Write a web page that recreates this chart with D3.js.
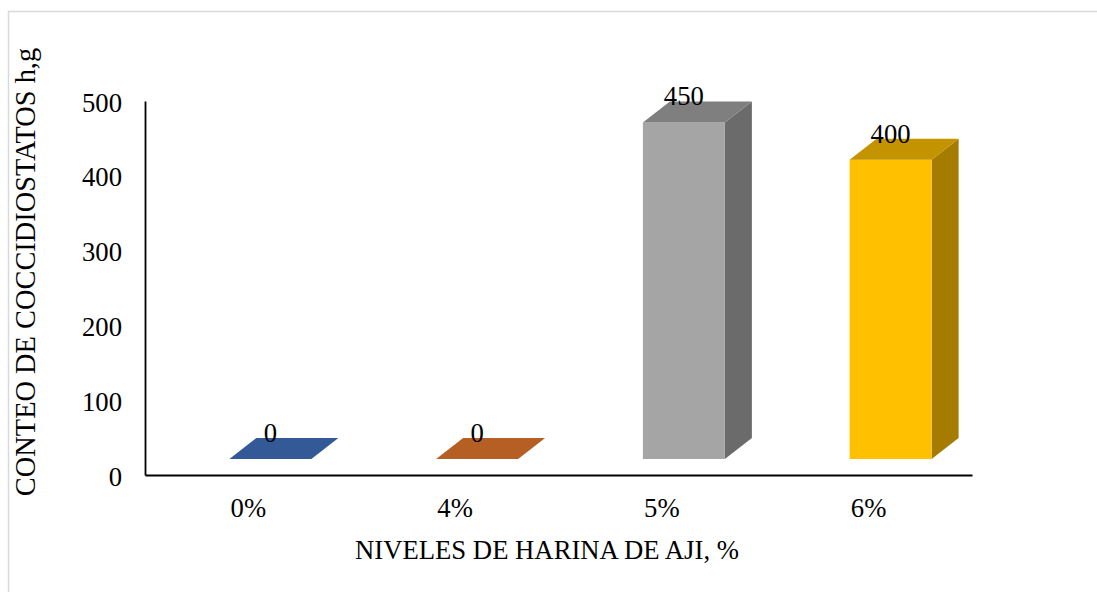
<!DOCTYPE html>
<html>
<head>
<meta charset="utf-8">
<script src="https://cdn.jsdelivr.net/npm/d3@7"></script>
<style>
  html, body { margin: 0; padding: 0; background: #ffffff; }
</style>
</head>
<body>
<svg id="chart" width="1097" height="592"></svg>
<script>
// Chart data
const categories = ["0%", "4%", "5%", "6%"];
const values = [0, 0, 450, 400];
const yTicks = [0, 100, 200, 300, 400, 500];
const xTitle = "NIVELES DE HARINA DE AJI, %";
const yTitle = "CONTEO DE COCCIDIOSTATOS h,g";

// Face colours for each bar (front, top, side)
const frontColors = ["#4472C4", "#ED7D31", "#A5A5A5", "#FFC000"];
const topColors   = ["#335A97", "#B55F24", "#7F7F7F", "#C49300"];
const sideColors  = ["#2B4C80", "#9A501F", "#6B6B6B", "#A57C00"];

const FONT = "Liberation Serif, Tinos, Times New Roman, Times, DejaVu Serif, serif";

const svg = d3.select("#chart")
  .attr("font-family", FONT);

// Outer chart frame
svg.append("rect")
  .attr("x", 8.5).attr("y", 11.5)
  .attr("width", 1200).attr("height", 700)
  .attr("fill", "none")
  .attr("stroke", "#d9d9d9")
  .attr("stroke-width", 1.5);

const plot = { left: 145, right: 972, top: 101, bottom: 475 };

const x = d3.scaleBand().domain(categories).range([plot.left, plot.right]);
const y = d3.scaleLinear().domain([0, 500]).range([plot.bottom, plot.top]);

// 3D projection: floor lifted above the axis, depth offset to the back-right
const floorLift = 16;
const depthX = 27, depthY = -21;
const barWidth = 82;
const barShift = -19; // front face left edge relative to band centre

const bars = svg.append("g").attr("class", "bars");

categories.forEach((c, i) => {
  const v = values[i];
  const x0 = x(c) + x.bandwidth() / 2 + barShift;
  const x1 = x0 + barWidth;
  const yb = y(0) - floorLift;
  const yt = y(v) - floorLift;

  const g = bars.append("g");
  if (v > 0) {
    // side face
    g.append("path")
      .attr("d", `M${x1},${yt} L${x1 + depthX},${yt + depthY} L${x1 + depthX},${yb + depthY} L${x1},${yb} Z`)
      .attr("fill", sideColors[i]);
    // front face
    g.append("path")
      .attr("d", `M${x0},${yt} L${x1},${yt} L${x1},${yb} L${x0},${yb} Z`)
      .attr("fill", frontColors[i]);
  }
  // top face
  g.append("path")
    .attr("d", `M${x0},${yt} L${x0 + depthX},${yt + depthY} L${x1 + depthX},${yt + depthY} L${x1},${yt} Z`)
    .attr("fill", topColors[i]);

  // value label
  g.append("text")
    .attr("x", (x0 + x1) / 2)
    .attr("y", yt + depthY + 4)
    .attr("text-anchor", "middle")
    .attr("font-family", FONT)
    .attr("font-size", 26.7)
    .attr("fill", "#000")
    .text(v);
});

// Y axis
const yAxis = d3.axisLeft(y).tickValues(yTicks).tickSize(0).tickPadding(23).tickSizeOuter(0);
const gy = svg.append("g")
  .attr("transform", `translate(${plot.left},0)`)
  .call(yAxis)
  .attr("font-family", FONT)
  .attr("font-size", 26.7);
gy.select(".domain").attr("stroke", "#000").attr("stroke-width", 1.8);
gy.selectAll(".tick text")
  .attr("dy", null)
  .attr("y", 10)
  .attr("fill", "#000");

// X axis
const xAxis = d3.axisBottom(x).tickSize(0).tickPadding(0).tickSizeOuter(0);
const gx = svg.append("g")
  .attr("transform", `translate(0,${plot.bottom})`)
  .call(xAxis)
  .attr("font-family", FONT)
  .attr("font-size", 26.7);
gx.select(".domain").attr("stroke", "#000").attr("stroke-width", 1.8);
gx.selectAll(".tick text")
  .attr("dy", null)
  .attr("y", 42)
  .attr("fill", "#000");

// Axis titles
svg.append("text")
  .attr("x", 547).attr("y", 559)
  .attr("text-anchor", "middle")
  .attr("font-family", FONT)
  .attr("font-size", 26.7)
  .attr("fill", "#000")
  .text(xTitle);

svg.append("text")
  .attr("transform", "translate(35,272) rotate(-90)")
  .attr("text-anchor", "middle")
  .attr("font-family", FONT)
  .attr("font-size", 28.4)
  .attr("fill", "#000")
  .text(yTitle);
</script>
</body>
</html>
